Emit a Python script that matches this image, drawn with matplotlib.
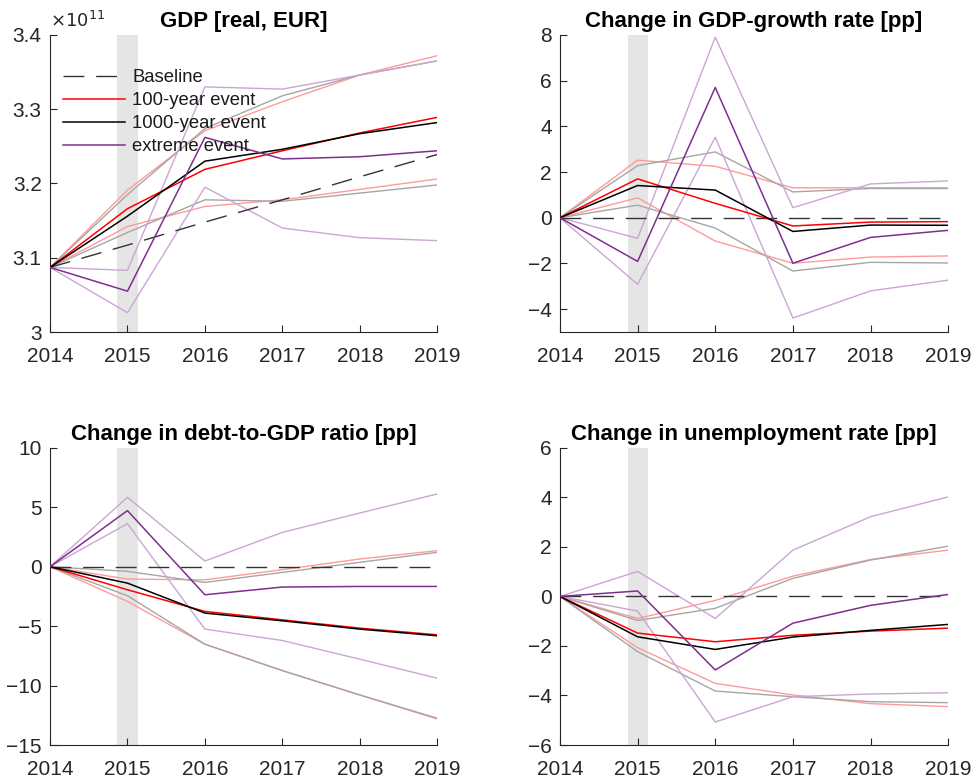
import matplotlib
matplotlib.use("Agg")
import matplotlib.pyplot as plt
from matplotlib.ticker import FuncFormatter

plt.rcParams["font.family"] = ["Liberation Sans", "DejaVu Sans"]

years = [2014, 2015, 2016, 2017, 2018, 2019]
shock_year = 2015

# GDP, real EUR
gdp_base = [3.087e11, 3.117e11, 3.148e11, 3.178e11, 3.209e11, 3.239e11]
gdp_100 = [3.087e11, 3.166e11, 3.219e11, 3.244e11, 3.268e11, 3.289e11]
gdp_100_hi = [3.087e11, 3.191e11, 3.271e11, 3.310e11, 3.346e11, 3.372e11]
gdp_100_lo = [3.087e11, 3.142e11, 3.169e11, 3.178e11, 3.192e11, 3.206e11]
gdp_1000 = [3.087e11, 3.156e11, 3.230e11, 3.246e11, 3.267e11, 3.282e11]
gdp_1000_hi = [3.087e11, 3.185e11, 3.274e11, 3.318e11, 3.346e11, 3.365e11]
gdp_1000_lo = [3.087e11, 3.134e11, 3.178e11, 3.176e11, 3.187e11, 3.198e11]
gdp_ext = [3.087e11, 3.055e11, 3.262e11, 3.233e11, 3.236e11, 3.244e11]
gdp_ext_hi = [3.087e11, 3.083e11, 3.330e11, 3.327e11, 3.346e11, 3.365e11]
gdp_ext_lo = [3.087e11, 3.026e11, 3.195e11, 3.140e11, 3.127e11, 3.123e11]

# change in GDP growth rate, pp
gr_base = [0, 0, 0, 0, 0, 0]
gr_100 = [0, 1.70, 0.63, -0.36, -0.19, -0.17]
gr_100_hi = [0, 2.52, 2.25, 1.31, 1.31, 1.31]
gr_100_lo = [0, 0.87, -1.02, -1.99, -1.72, -1.67]
gr_1000 = [0, 1.41, 1.21, -0.60, -0.32, -0.33]
gr_1000_hi = [0, 2.28, 2.88, 1.13, 1.28, 1.28]
gr_1000_lo = [0, 0.55, -0.45, -2.33, -1.95, -1.98]
gr_ext = [0, -1.91, 5.70, -1.99, -0.86, -0.55]
gr_ext_hi = [0, -0.90, 7.90, 0.44, 1.48, 1.61]
gr_ext_lo = [0, -2.91, 3.52, -4.39, -3.20, -2.73]

# change in debt-to-GDP ratio, pp
debt_base = [0, 0, 0, 0, 0, 0]
debt_100 = [0, -1.94, -3.76, -4.47, -5.17, -5.73]
debt_100_hi = [0, -1.04, -1.10, -0.25, 0.65, 1.35]
debt_100_lo = [0, -2.92, -6.52, -8.74, -10.79, -12.81]
debt_1000 = [0, -1.38, -3.90, -4.55, -5.25, -5.81]
debt_1000_hi = [0, -0.39, -1.32, -0.48, 0.37, 1.21]
debt_1000_lo = [0, -2.44, -6.52, -8.74, -10.79, -12.75]
debt_ext = [0, 4.72, -2.36, -1.71, -1.66, -1.66]
debt_ext_hi = [0, 5.84, 0.48, 2.89, 4.52, 6.12]
debt_ext_lo = [0, 3.62, -5.25, -6.21, -7.78, -9.38]

# change in unemployment rate, pp
un_base = [0, 0, 0, 0, 0, 0]
un_100 = [0, -1.48, -1.83, -1.57, -1.40, -1.28]
un_100_hi = [0, -0.89, -0.16, 0.82, 1.49, 1.87]
un_100_lo = [0, -2.07, -3.51, -3.98, -4.33, -4.45]
un_1000 = [0, -1.63, -2.14, -1.64, -1.37, -1.13]
un_1000_hi = [0, -0.97, -0.48, 0.73, 1.47, 2.03]
un_1000_lo = [0, -2.23, -3.82, -4.05, -4.25, -4.29]
un_ext = [0, 0.22, -2.97, -1.08, -0.36, 0.08]
un_ext_hi = [0, 1.01, -0.89, 1.87, 3.22, 4.02]
un_ext_lo = [0, -0.59, -5.07, -4.05, -3.94, -3.89]

AX_COL = "#262626"
RED, RED_LT = "#ff0000", "#ff9a9a"
BLK, BLK_LT = "#000000", "#a6a6a6"
PUR, PUR_LT = "#7e2f8e", "#cba6d3"

panels = [
    dict(title="GDP [real, EUR]", ylim=(3.0e11, 3.4e11),
         yticks=[3.0e11, 3.1e11, 3.2e11, 3.3e11, 3.4e11],
         base=gdp_base,
         series=[(gdp_100, gdp_100_hi, gdp_100_lo),
                 (gdp_1000, gdp_1000_hi, gdp_1000_lo),
                 (gdp_ext, gdp_ext_hi, gdp_ext_lo)]),
    dict(title="Change in GDP-growth rate [pp]", ylim=(-5, 8),
         yticks=[-4, -2, 0, 2, 4, 6, 8],
         base=gr_base,
         series=[(gr_100, gr_100_hi, gr_100_lo),
                 (gr_1000, gr_1000_hi, gr_1000_lo),
                 (gr_ext, gr_ext_hi, gr_ext_lo)]),
    dict(title="Change in debt-to-GDP ratio [pp]", ylim=(-15, 10),
         yticks=[-15, -10, -5, 0, 5, 10],
         base=debt_base,
         series=[(debt_100, debt_100_hi, debt_100_lo),
                 (debt_1000, debt_1000_hi, debt_1000_lo),
                 (debt_ext, debt_ext_hi, debt_ext_lo)]),
    dict(title="Change in unemployment rate [pp]", ylim=(-6, 6),
         yticks=[-6, -4, -2, 0, 2, 4, 6],
         base=un_base,
         series=[(un_100, un_100_hi, un_100_lo),
                 (un_1000, un_1000_hi, un_1000_lo),
                 (un_ext, un_ext_hi, un_ext_lo)]),
]

positions = [
    [0.0514, 0.5754, 0.398, 0.380],
    [0.5755, 0.5754, 0.399, 0.380],
    [0.0514, 0.0473, 0.398, 0.380],
    [0.5755, 0.0473, 0.399, 0.380],
]

colors = [(RED, RED_LT), (BLK, BLK_LT), (PUR, PUR_LT)]
labels = ["100-year event", "1000-year event", "extreme event"]

fig = plt.figure(figsize=(9.73, 7.82), dpi=100)

for i, (p, pos) in enumerate(zip(panels, positions)):
    ax = fig.add_axes(pos)
    ax.axvspan(shock_year - 0.13, shock_year + 0.13, color="#e5e5e5", lw=0, zorder=0)

    handles = []
    h, = ax.plot(years, p["base"], color="#333333", lw=1.0, dashes=(15, 8.5),
                 label="Baseline", zorder=3)
    handles.append(h)
    for (mid, hi, lo), (c, c_lt), lab in zip(p["series"], colors, labels):
        ax.plot(years, hi, color=c_lt, lw=1.0, zorder=2)
        ax.plot(years, lo, color=c_lt, lw=1.0, zorder=2)
        h, = ax.plot(years, mid, color=c, lw=1.1, label=lab, zorder=4)
        handles.append(h)

    ax.set_xlim(2014, 2019)
    ax.set_ylim(*p["ylim"])
    ax.set_xticks(years)
    ax.set_yticks(p["yticks"])
    ax.set_title(p["title"], fontsize=16, fontweight="bold", pad=6)

    for side in ("top", "right"):
        ax.spines[side].set_visible(False)
    for side in ("left", "bottom"):
        ax.spines[side].set_color(AX_COL)
        ax.spines[side].set_linewidth(0.8)
    ax.tick_params(direction="in", length=5, width=0.8, color=AX_COL,
                   labelcolor=AX_COL, labelsize=15)
    ax.tick_params(axis="x", pad=10.5)
    ax.tick_params(axis="y", pad=6)

    if i == 0:
        ax.yaxis.set_major_formatter(FuncFormatter(lambda v, _: f"{v / 1e11:g}"))
        ax.text(0.0, 1.012, r"$\times10^{11}$", transform=ax.transAxes,
                fontsize=13, color=AX_COL, va="bottom", ha="left")
        leg = ax.legend(handles=handles, loc="upper left",
                        bbox_to_anchor=(0.015, 0.91), frameon=False,
                        fontsize=13.3, handlelength=3.35, handletextpad=0.4,
                        labelspacing=0.33, borderaxespad=0)
        for t in leg.get_texts():
            t.set_color("#1a1a1a")

fig.savefig("out.png", dpi=100)
plt.close(fig)
